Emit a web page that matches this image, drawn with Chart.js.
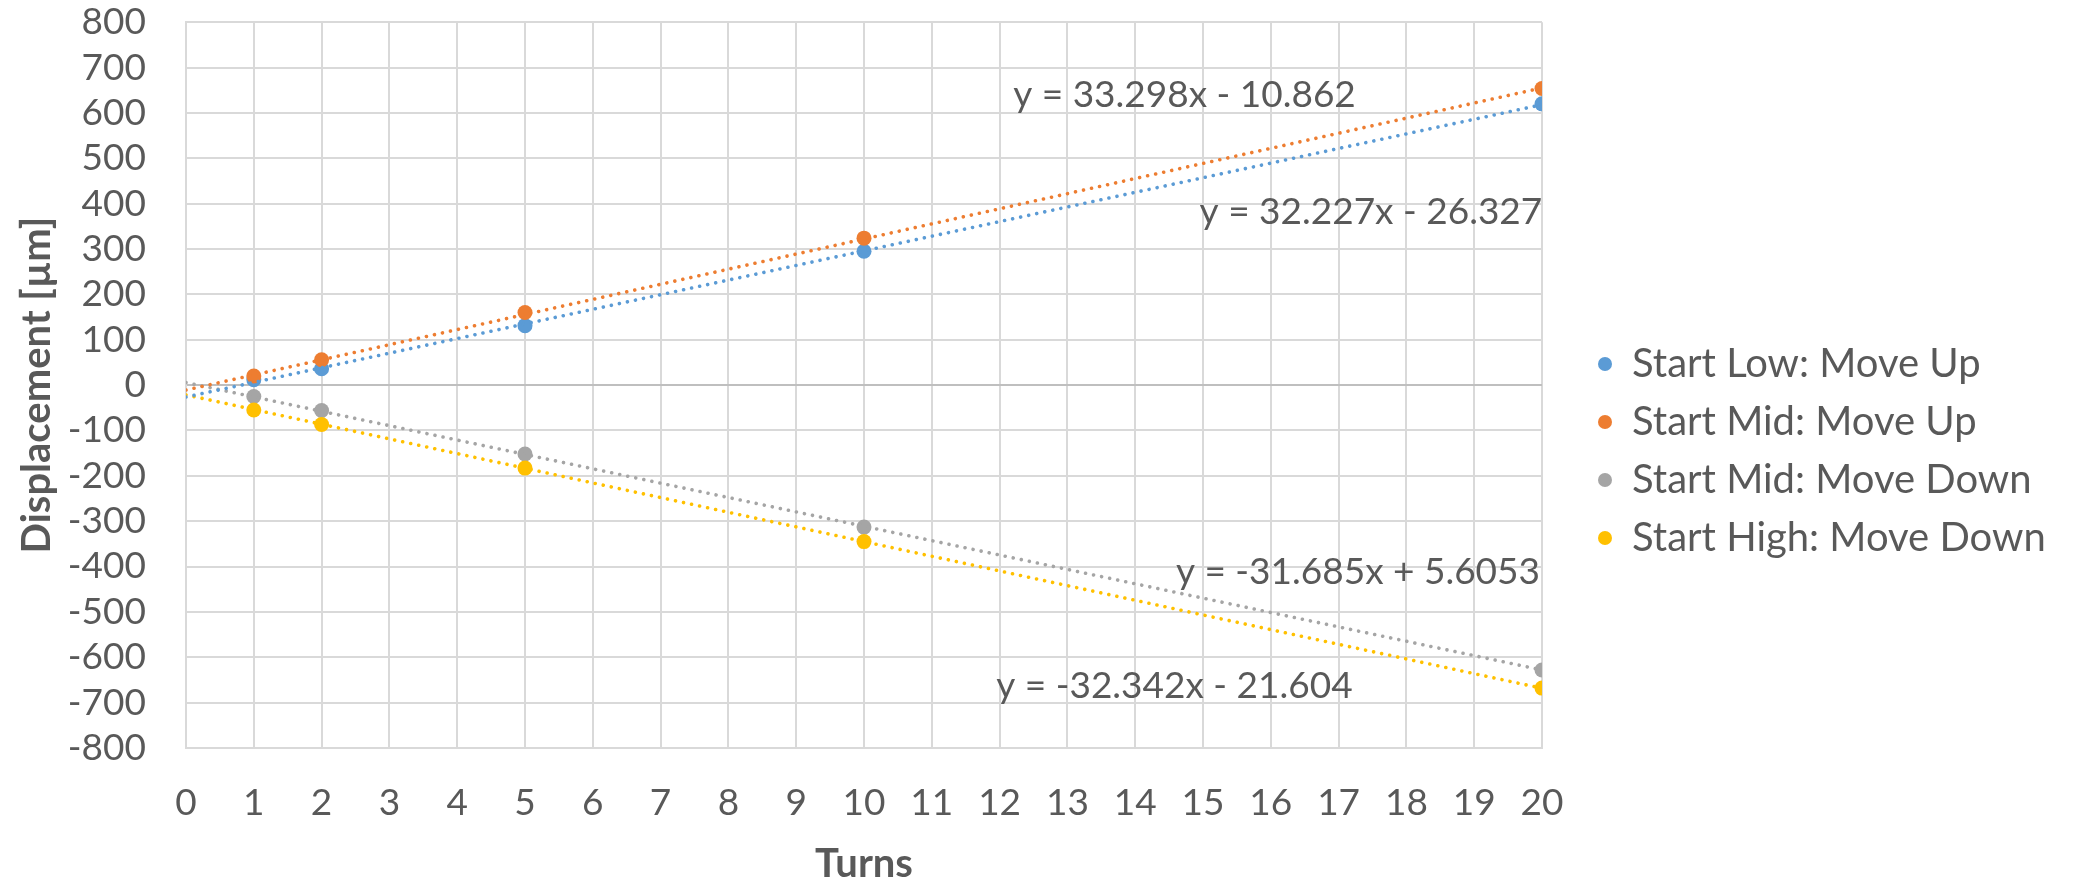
<!DOCTYPE html>
<html>
<head>
<meta charset="utf-8">
<script src="https://cdn.jsdelivr.net/npm/chart.js@4.4.1/dist/chart.umd.min.js"></script>
<style>
  html, body { margin: 0; padding: 0; background: #fff; }
  #wrap { width: 2077px; height: 880px; }
</style>
</head>
<body>
<div id="wrap"><canvas id="c"></canvas></div>
<script>
// Displacement vs turns — scatter + linear trendlines
const FONT = "Lato, 'Liberation Sans', sans-serif";
const INK = '#595959';

const TURNS = [1, 2, 5, 10, 20];
const SERIES = ['Start Low: Move Up', 'Start Mid: Move Up', 'Start Mid: Move Down', 'Start High: Move Down'];
const LOW_UP    = [12, 36, 131, 295, 620];
const MID_UP    = [20, 56, 160, 324, 654];
const MID_DOWN  = [-25, -56, -152, -313, -628];
const HIGH_DOWN = [-55, -87, -183, -345, -668];

// trendline coefficients, as printed on the chart
const SLOPES     = [32.227, 33.298, -31.685, -32.342];
const INTERCEPTS = [-26.327, -10.862, 5.6053, -21.604];
const TREND_X    = [0, 20];

const X_TICKS = [0, 1, 2, 3, 4, 5, 6, 7, 8, 9, 10, 11, 12, 13, 14, 15, 16, 17, 18, 19, 20];
const Y_TICKS = [-800, -700, -600, -500, -400, -300, -200, -100, 0, 100, 200, 300, 400, 500, 600, 700, 800];

const COLORS = ['#5B9BD5', '#ED7D31', '#A5A5A5', '#FFC000'];
// where each equation label sits (turns, µm) — left edge, vertical middle
const EQ_AT = [[14.95, 382], [12.2, 640], [14.6, -412], [11.95, -663]];

const VALUES = [LOW_UP, MID_UP, MID_DOWN, HIGH_DOWN];

function eqText(i) {
  const b = INTERCEPTS[i];
  return 'y = ' + SLOPES[i] + 'x ' + (b < 0 ? '- ' : '+ ') + Math.abs(b);
}

const pointSets = SERIES.map((name, i) => ({
  label: name,
  data: TURNS.map((t, k) => ({ x: t, y: VALUES[i][k] })),
  backgroundColor: COLORS[i],
  borderColor: COLORS[i],
  borderWidth: 0,
  pointRadius: 7.5,
  pointHoverRadius: 8,
  showLine: false,
  order: 4 - i,
}));

const trendSets = SERIES.map((name, i) => ({
  label: 'trend ' + name,
  data: TREND_X.map(x => ({ x, y: SLOPES[i] * x + INTERCEPTS[i] })),
  borderColor: COLORS[i],
  borderWidth: 3.6,
  borderDash: [0.01, 8.2],
  borderCapStyle: 'round',
  pointRadius: 0,
  showLine: true,
  fill: false,
  order: 0,
}));

const legendBox = {
  id: 'legendBox',
  beforeInit(chart) {
    const fit = chart.legend.fit;
    chart.legend.fit = function () { fit.call(this); this.width = 535; };
  },
  afterLayout(chart) {
    chart.legend.left += 38;
  },
};

const equations = {
  id: 'equations',
  afterDatasetsDraw(chart) {
    const { ctx, scales: { x, y } } = chart;
    ctx.save();
    ctx.font = '37px ' + FONT;
    ctx.fillStyle = INK;
    ctx.textAlign = 'left';
    ctx.textBaseline = 'middle';
    EQ_AT.forEach((p, i) => {
      ctx.fillText(eqText(i), x.getPixelForValue(p[0]), y.getPixelForValue(p[1]));
    });
    ctx.restore();
  },
};

new Chart(document.getElementById('c'), {
  type: 'scatter',
  data: { datasets: [...pointSets, ...trendSets] },
  plugins: [legendBox, equations],
  options: {
    responsive: true, maintainAspectRatio: false, animation: false,
    layout: { padding: { top: 22, right: 0, bottom: 0, left: 0 } },
    plugins: {
      legend: {
        position: 'right',
        labels: {
          usePointStyle: true, pointStyle: 'circle',
          boxWidth: 14, boxHeight: 9.9, padding: 18,
          color: INK, font: { family: FONT, size: 40 },
          filter: item => !item.text.startsWith('trend'),
          sort: (a, b) => a.datasetIndex - b.datasetIndex,
        },
      },
      tooltip: { enabled: false },
    },
    scales: {
      x: {
        type: 'linear', min: 0, max: 20,
        afterBuildTicks: s => { s.ticks = X_TICKS.map(v => ({ value: v })); },
        afterFit: s => { s.height = 132; },
        grid: { color: '#D9D9D9', lineWidth: 2, drawTicks: false },
        border: { color: '#D9D9D9', width: 2 },
        ticks: { color: INK, font: { family: FONT, size: 37 }, padding: 33, maxRotation: 0, autoSkip: false },
        title: { display: true, text: 'Turns', color: INK, font: { family: FONT, size: 40, weight: 'bold', lineHeight: 0.8 }, padding: { top: 0, bottom: 0 } },
      },
      y: {
        type: 'linear', min: -800, max: 800,
        afterBuildTicks: s => { s.ticks = Y_TICKS.map(v => ({ value: v })); },
        afterFit: s => { s.width = 186; },
        grid: {
          color: c => (c.tick && c.tick.value === 0 ? '#BFBFBF' : '#D9D9D9'),
          lineWidth: 2, drawTicks: true, tickLength: 40, tickColor: 'rgba(0,0,0,0)',
        },
        border: { color: '#D9D9D9', width: 2 },
        ticks: { color: INK, font: { family: FONT, size: 37 }, padding: 0, autoSkip: false },
        title: { display: true, text: 'Displacement [µm]', color: INK, font: { family: FONT, size: 40, weight: 'bold' }, padding: { top: 13, bottom: 0 } },
      },
    },
  },
});
</script>
</body>
</html>
